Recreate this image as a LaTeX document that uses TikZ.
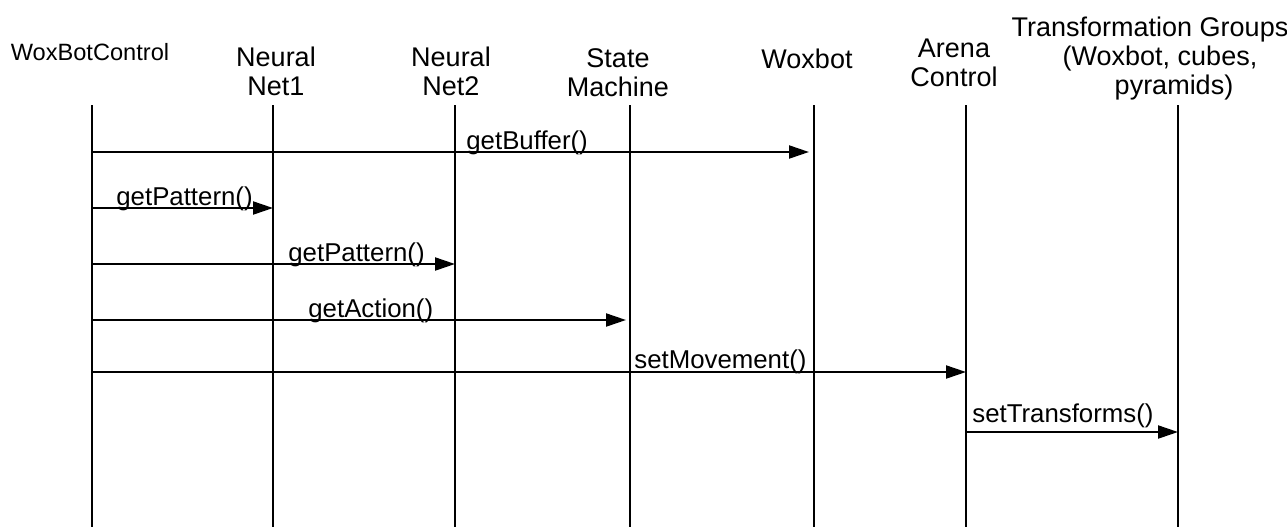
\documentclass[tikz,border=0pt]{standalone}
\usepackage{fontspec}
\setmainfont{Liberation Sans}
\usetikzlibrary{arrows.meta}

\begin{document}
\begin{tikzpicture}[x=0.5pt,y=-0.5pt,
    life/.style={line width=0.75pt},
    msg/.style={line width=1.05pt,-{Triangle[length=10pt,width=6.5pt]}},
    head/.style={inner sep=0,anchor=base,align=center,font=\fontsize{13.5}{14.5}\selectfont},
    call/.style={inner sep=0,anchor=base west,font=\fontsize{12.9}{14}\selectfont}]
    \useasboundingbox (0,0) rectangle (1287,527);

    % Objects (anchored at the last line)
    \node[head,font=\fontsize{11.8}{13}\selectfont] (wbc) at (90,60) {WoxBotControl};
    \node[head] (nn1) at (276,95) {Neural\\Net1};
    \node[head] (nn2) at (451,95) {Neural\\Net2};
    \node[head] (sm) at (618,96) {State\\Machine};
    \node[head] (wox) at (807,68) {Woxbot};
    \node[head] (arena) at (954,86) {Arena\\Control};
    \node[head] (tg) at (1150,94) {Transformation Groups\\\hspace*{10pt}(Woxbot, cubes,\\\hspace*{24pt}pyramids)};

    % Lifelines
    \coordinate (wbc-top) at (92,105);   \coordinate (wbc-bot) at (92,527);
    \coordinate (nn1-top) at (273,105);  \coordinate (nn1-bot) at (273,527);
    \coordinate (nn2-top) at (455,105);  \coordinate (nn2-bot) at (455,527);
    \coordinate (sm-top) at (630,105);   \coordinate (sm-bot) at (630,527);
    \coordinate (wox-top) at (814,105);  \coordinate (wox-bot) at (814,527);
    \coordinate (arena-top) at (966,105); \coordinate (arena-bot) at (966,527);
    \coordinate (tg-top) at (1178,105);  \coordinate (tg-bot) at (1178,527);
    \draw[life] (wbc-top) -- (wbc-bot);
    \draw[life] (nn1-top) -- (nn1-bot);
    \draw[life] (nn2-top) -- (nn2-bot);
    \draw[life] (sm-top) -- (sm-bot);
    \draw[life] (wox-top) -- (wox-bot);
    \draw[life] (arena-top) -- (arena-bot);
    \draw[life] (tg-top) -- (tg-bot);

    % Calls
    \coordinate (m1) at (0,152);
    \coordinate (m2) at (0,208);
    \coordinate (m3) at (0,264);
    \coordinate (m4) at (0,320);
    \coordinate (m5) at (0,372);
    \coordinate (m6) at (0,432);
    \draw[msg,shorten >=2.5pt] (wbc-top |- m1) -- (wox-top |- m1);
    \draw[msg] (wbc-top |- m2) -- (nn1-top |- m2);
    \draw[msg] (wbc-top |- m3) -- (nn2-top |- m3);
    \draw[msg,shorten >=2pt] (wbc-top |- m4) -- (sm-top |- m4);
    \draw[msg] (wbc-top |- m5) -- (arena-top |- m5);
    \draw[msg] (arena-top |- m6) -- (tg-top |- m6);

    % Call labels
    \node[call] (getbuf) at (466,149) {getBuffer()};
    \node[call] (getpat1) at (116,205) {getPattern()};
    \node[call] (getpat2) at (288,261) {getPattern()};
    \node[call] (getact) at (308,317) {getAction()};
    \node[call] (setmov) at (634,368) {setMovement()};
    \node[call] (settrans) at (972,422) {setTransforms()};
\end{tikzpicture}
\end{document}
